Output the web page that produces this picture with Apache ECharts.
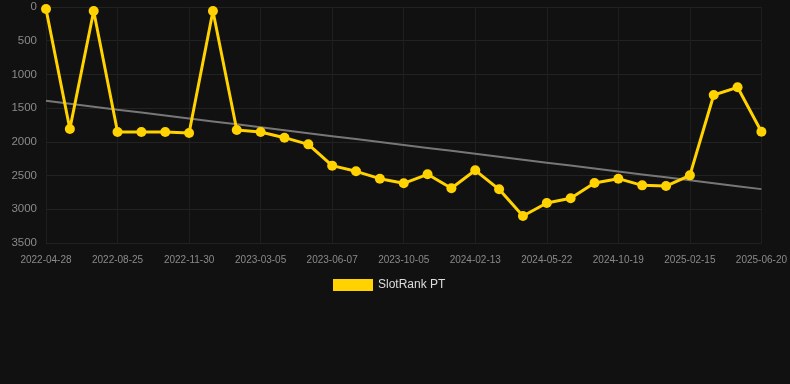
<!DOCTYPE html>
<html>
<head>
<meta charset="utf-8">
<script src="https://cdn.jsdelivr.net/npm/echarts@6/dist/echarts.min.js"></script>
<style>
    html, body { margin: 0; padding: 0; background: #111111; }
    #chart { width: 790px; height: 384px; }
</style>
</head>
<body>
<div id="chart"></div>
<script>
const dates = [
    '2022-04-28', '2022-06-05', '2022-07-15', '2022-08-25', '2022-09-28', '2022-10-30',
    '2022-11-30', '2022-12-31', '2023-02-01', '2023-03-05', '2023-04-05', '2023-05-07',
    '2023-06-07', '2023-07-15', '2023-08-25', '2023-10-05', '2023-11-15', '2023-12-28',
    '2024-02-13', '2024-03-18', '2024-04-20', '2024-05-22', '2024-07-05', '2024-08-25',
    '2024-10-19', '2024-11-25', '2025-01-05', '2025-02-15', '2025-03-25', '2025-05-10',
    '2025-06-20'
]
const ranks = [
    30, 1809, 60, 1854, 1854, 1854, 1869, 60, 1824, 1854,
    1938, 2037, 2353, 2437, 2546, 2615, 2481, 2689, 2422, 2704,
    3100, 2907, 2837, 2610, 2546, 2645, 2655, 2497, 1305, 1191,
    1849
]
const yTicks = [0, 500, 1000, 1500, 2000, 2500, 3000, 3500]

// least squares trend over the rank series
const trend = (function () {
    const n = ranks.length
    let sx = 0, sy = 0, sxy = 0, sxx = 0
    ranks.forEach((v, i) => {
        sx += i; sy += v; sxy += i * v; sxx += i * i
    })
    const slope = (n * sxy - sx * sy) / (n * sxx - sx * sx)
    const icpt = (sy - slope * sx) / n
    return ranks.map((v, i) => +(icpt + slope * i).toFixed(1))
})()

const font = 'Liberation Sans, Arial, sans-serif'
const chart = echarts.init(document.getElementById('chart'))
chart.setOption({
    backgroundColor: '#111111',
    animation: false,
    grid: { left: 46, right: 28, top: 7, bottom: 141, containLabel: false },
    legend: {
        data: [{ name: 'SlotRank PT', icon: 'rect' }],
        top: 274,
        left: 328,
        itemWidth: 40,
        itemHeight: 12,
        itemGap: 10,
        textStyle: { color: '#dddddd', fontSize: 12, fontFamily: font }
    },
    xAxis: {
        type: 'category',
        data: dates,
        boundaryGap: false,
        axisLine: { show: false },
        axisTick: { show: false },
        axisLabel: {
            interval: 2,
            color: '#8a8a8a',
            fontSize: 10,
            margin: 12,
            fontFamily: font
        },
        splitLine: { show: true, interval: 2, lineStyle: { color: '#1e1e1e', width: 1 } }
    },
    yAxis: {
        type: 'value',
        inverse: true,
        min: yTicks[0],
        max: yTicks[yTicks.length - 1],
        interval: 500,
        axisLine: { show: false },
        axisTick: { show: false },
        axisLabel: {
            color: '#8a8a8a',
            fontSize: 11.5,
            margin: 9,
            fontFamily: font,
            formatter: v => String(v)
        },
        splitLine: { lineStyle: { color: '#222222', width: 1 } }
    },
    series: [
        {
            name: 'SlotRank PT',
            type: 'line',
            data: ranks,
            symbol: 'circle',
            symbolSize: 10,
            z: 3,
            lineStyle: { color: '#ffd200', width: 3 },
            itemStyle: { color: '#ffd200' }
        },
        {
            name: 'trend',
            type: 'line',
            data: trend,
            symbol: 'none',
            z: 2,
            lineStyle: { color: '#777777', width: 2 },
            itemStyle: { color: '#777777' }
        }
    ]
})
</script>
</body>
</html>
